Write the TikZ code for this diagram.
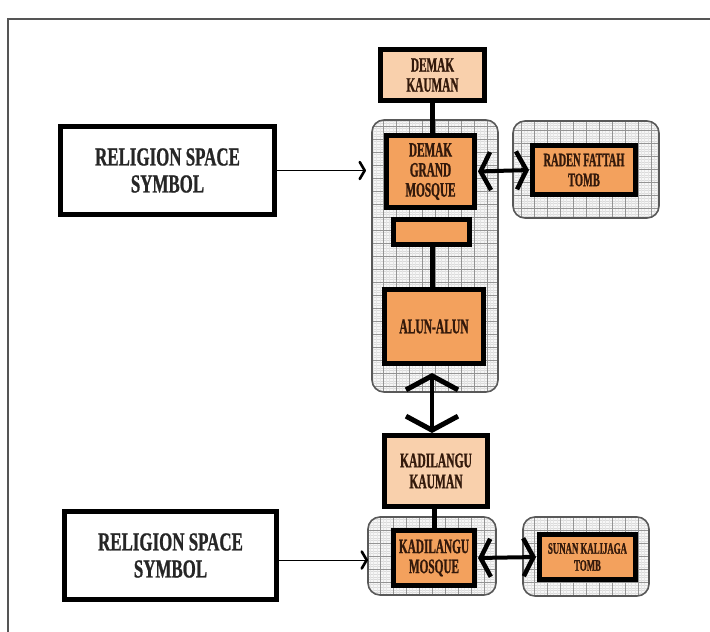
\documentclass[tikz,border=0pt]{standalone}
\usepackage{fontspec}
\usetikzlibrary{arrows.meta}
\newfontfamily\relfont{Liberation Serif Bold}[FakeStretch=0.65, FakeBold=0.8]
\newfontfamily\boxfont{Liberation Serif Bold}[FakeStretch=0.55, FakeBold=1.0]
\definecolor{peach}{HTML}{F9D0AC}
\definecolor{orangefill}{HTML}{F3A15D}
\definecolor{darktext}{HTML}{33190B}
\definecolor{framegray}{HTML}{555555}
\tikzset{
  relbox/.style={draw=black, line width=5pt, fill=white, align=center, inner sep=1pt,
    text=black!85, font=\relfont\fontsize{26}{27}\selectfont},
  inbox/.style={draw=black, line width=5pt, fill=orangefill, align=center, inner sep=1pt,
    text=darktext, font=\boxfont\fontsize{20.5}{20}\selectfont},
  lightbox/.style={inbox, fill=peach},
  contbox/.style={draw=black!65, line width=1.6pt, rounded corners=12pt, inner sep=0pt,
    path picture={
      \fill[black!3] (path picture bounding box.south west) rectangle (path picture bounding box.north east);
      \draw[black!14, line width=0.3pt, ystep=2.6pt, xstep=100cm]
        (path picture bounding box.south west) grid (path picture bounding box.north east);
      \draw[black!10, line width=0.3pt, xstep=3.25pt, ystep=100cm]
        (path picture bounding box.south west) grid (path picture bounding box.north east);
      \draw[black!42, line width=0.6pt, step=13pt]
        (path picture bounding box.south west) grid (path picture bounding box.north east);
    }},
  thinarrow/.style={line width=1pt, -{Straight Barb[length=5pt, width=17pt, line width=2.6pt, round]}},
  hdouble/.style={line width=4pt, {Straight Barb[length=10pt, width=38pt, line width=4.5pt]}-{Straight Barb[length=10pt, width=38pt, line width=4.5pt]}},
  vdouble/.style={line width=4.5pt, {Straight Barb[length=14pt, width=52pt, line width=5pt]}-{Straight Barb[length=14pt, width=52pt, line width=5pt]}},
  link/.style={line width=5pt}
}
\begin{document}
\begin{tikzpicture}[x=1pt, y=-1pt]
\useasboundingbox (0,0) rectangle (710,632);
\fill[white] (0,0) rectangle (710,632);
% frame
\draw[framegray, line width=2pt] (8,632) -- (8,19) -- (710,19);

% containers
\node[contbox, minimum width=126, minimum height=272] (c1) at (435,256) {};
\node[contbox, minimum width=146, minimum height=97] (c2) at (586,169.5) {};
\node[contbox, minimum width=128, minimum height=78] (c3) at (432,556) {};
\node[contbox, minimum width=126, minimum height=79] (c4) at (586,556.5) {};

% religion boxes
\node[relbox, minimum width=214, minimum height=88] (rel1) at (167.5,170.5) {RELIGION SPACE\\SYMBOL};
\node[relbox, minimum width=212, minimum height=88] (rel2) at (170.5,555.5) {RELIGION SPACE\\SYMBOL};

% inner boxes
\node[lightbox, minimum width=104, minimum height=51] (dk) at (432.5,75) {DEMAK\\KAUMAN};
\node[inbox, minimum width=88, minimum height=72] (dgm) at (430.5,171.5) {DEMAK\\GRAND\\MOSQUE};
\node[inbox, minimum width=76, minimum height=25] (small) at (431.5,232) {};
\node[inbox, minimum width=99, minimum height=74, font=\boxfont\fontsize{21}{21}\selectfont] (alun) at (434,326.5) {ALUN-ALUN};
\node[inbox, minimum width=103, minimum height=49, font=\boxfont\fontsize{19}{20}\selectfont] (rft) at (584,170) {RADEN FATTAH\\TOMB};
\node[lightbox, minimum width=103, minimum height=71, font=\boxfont\fontsize{21}{21}\selectfont] (kk) at (436,471) {KADILANGU\\KAUMAN};
\node[inbox, minimum width=81, minimum height=55] (km) at (434,558) {KADILANGU\\MOSQUE};
\node[inbox, minimum width=96, minimum height=45, font=\boxfont\fontsize{16}{17}\selectfont] (sk) at (587.5,557) {SUNAN KALIJAGA\\TOMB};

% connectors
\draw[link] (dk.south -| 432,0) -- (dgm.north -| 432,0);
\draw[link] (small.south -| 432,0) -- (alun.north -| 432,0);
\draw[link] (kk.south -| 434,0) -- (km.north -| 434,0);

\coordinate (t1) at (366,170.5);
\coordinate (t2) at (368,560);
\draw[thinarrow] (rel1.east) -- (t1);
\draw[thinarrow] (rel2.east |- t2) -- (t2);

\draw[hdouble, shorten <=1pt, shorten >=1pt] (dgm.east) -- (rft.west);
\draw[hdouble, shorten <=1pt, shorten >=1pt] (km.east) -- (sk.west);

\coordinate (up) at (432,373);
\draw[vdouble] (up) -- (up |- kk.north);
\end{tikzpicture}
\end{document}
